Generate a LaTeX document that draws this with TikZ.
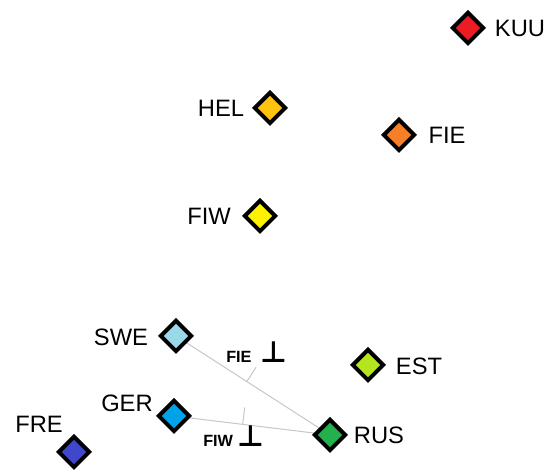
\documentclass[tikz,border=0pt]{standalone}
\usepackage{fontspec}
\setmainfont{Liberation Sans}
\newfontfamily\symfont{DejaVu Sans}
\usetikzlibrary{shapes.geometric,calc}

\definecolor{kuucol}{RGB}{237,28,36}
\definecolor{helcol}{RGB}{255,194,14}
\definecolor{fiecol}{RGB}{247,127,39}
\definecolor{fiwcol}{RGB}{255,242,0}
\definecolor{swecol}{RGB}{153,217,234}
\definecolor{gercol}{RGB}{0,162,232}
\definecolor{ruscol}{RGB}{34,177,76}
\definecolor{estcol}{RGB}{181,230,29}
\definecolor{frecol}{RGB}{63,72,204}

\begin{document}
\begin{tikzpicture}[x=0.75pt, y=-0.75pt]
    \tikzstyle{site} = [diamond, draw=black, line width=3pt, inner sep=0pt, minimum size=24pt]
    \tikzstyle{tag} = [inner sep=0pt, font=\fontsize{17.8}{20}\selectfont]
    \tikzstyle{axis} = [inner sep=0pt, anchor=base west, font=\bfseries\fontsize{12.2}{14}\selectfont]
    \tikzstyle{link} = [draw=black!22, line width=0.75pt]

    \useasboundingbox (0,0) rectangle (544,470);

    \draw [link] (176, 336) coordinate (swec) -- (330, 435) coordinate (rusc);
    \draw [link] (174, 416) coordinate (gerc) -- (rusc);

    \node (kuu) at (468, 28) [site, fill=kuucol] {};
    \node (hel) at (270, 108) [site, fill=helcol] {};
    \node (fie) at (399, 135) [site, fill=fiecol] {};
    \node (fiw) at (260, 216) [site, fill=fiwcol] {};

    \node (swe) at (swec) [site, fill=swecol] {};
    \node (est) at (368, 365) [site, fill=estcol] {};
    \node (ger) at (gerc) [site, fill=gercol] {};
    \node (rus) at (rusc) [site, fill=ruscol] {};
    \node (fre) at (74, 452) [site, fill=frecol] {};

    \node (kuul) at (520, 28) [tag] {KUU};
    \node (hell) at (221, 108) [tag] {HEL};
    \node (fiel) at (447, 135) [tag] {FIE};
    \node (fiwl) at (209, 216) [tag] {FIW};
    \node (swel) at (121, 337) [tag] {SWE};
    \node (estl) at (419, 366) [tag] {EST};
    \node (gerl) at (127, 403) [tag] {GER};
    \node (rusl) at (379, 435) [tag] {RUS};
    \node (frel) at (39, 424) [tag] {FRE};

    \coordinate (t1) at ($(swe)!0.46!(rus)$);
    \coordinate (t1e) at ($(t1)!12.75pt!90:(rus)$);
    \coordinate (t2) at ($(ger)!0.44!(rus)$);
    \coordinate (t2e) at ($(t2)!12.75pt!90:(rus)$);
    \draw [link] (t1) -- (t1e);
    \draw [link] (t2) -- (t2e);

    \node (fiex) at (226, 363) [axis] {FIE\hspace{6.5pt}{\symfont\fontsize{22}{22}\selectfont ⊥}};
    \node (fiwx) at (203, 447) [axis] {FIW\hspace{3pt}{\symfont\fontsize{22}{22}\selectfont ⊥}};
\end{tikzpicture}
\end{document}
